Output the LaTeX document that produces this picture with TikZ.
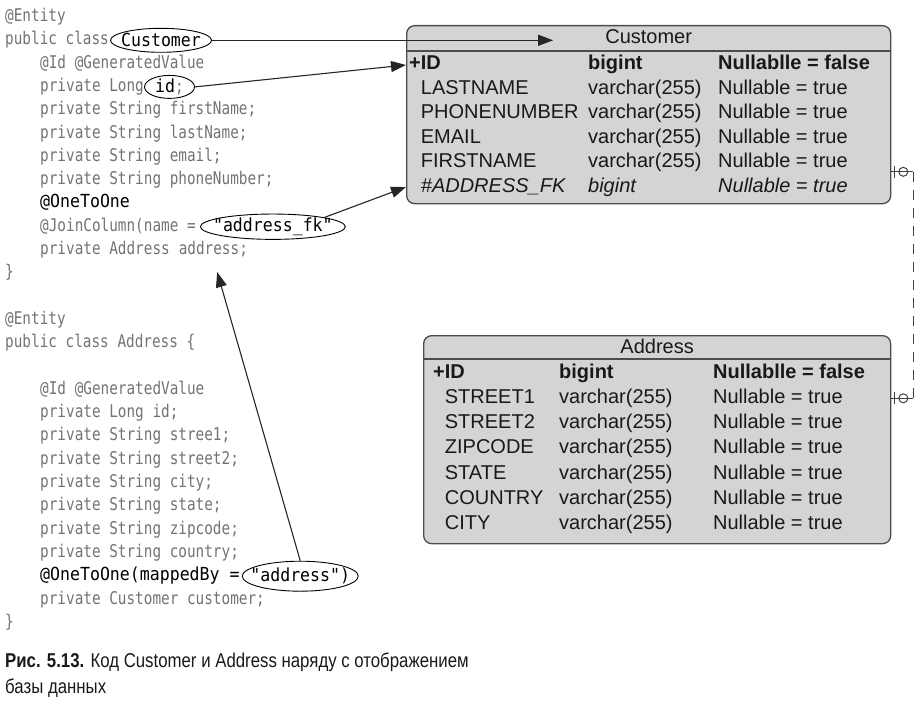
\documentclass[tikz,border=0pt]{standalone}
\usepackage{fontspec}
\usetikzlibrary{positioning}
\usetikzlibrary{shapes.geometric,arrows.meta}

\newfontfamily\codefam[FakeStretch=0.82]{DejaVu Sans Mono}
\newfontfamily\hlfam[FakeStretch=0.92]{DejaVu Sans Mono}
\newfontfamily\tabfam{Liberation Sans}
\newfontfamily\capfam[FakeStretch=0.84]{Liberation Sans}
\newcommand{\codetext}{\codefam\fontsize{17.5pt}{19pt}\selectfont}
\newcommand{\hltext}{\hlfam\fontsize{18pt}{19pt}\selectfont}
\newcommand{\tabtext}{\tabfam\fontsize{20pt}{24pt}\selectfont}
\newcommand{\captext}{\capfam\fontsize{20pt}{26pt}\selectfont}
\newcommand{\custrow}[3]{\makebox[179pt][l]{#1}\makebox[130pt][l]{#2}#3}
\newcommand{\addrrow}[3]{\makebox[126pt][l]{#1}\makebox[154pt][l]{#2}#3}

\begin{document}
\begin{tikzpicture}[x=1pt, y=-1pt, node distance=23.3pt,
	codeline/.style={inner sep=0, anchor=west, text height=13pt, text depth=4pt, text=black!55, font=\codetext},
	hlline/.style={codeline, text=black, font=\hltext},
	hl/.style={ellipse, draw=black, line width=0.9pt, inner sep=0, text=black, font=\hltext},
	conn/.style={draw=black!85, line width=1.1pt, -{Triangle[length=15pt,width=11pt]}},
	dbtable/.style={draw=black!70, fill=black!17, line width=1.3pt, rounded corners=8pt, anchor=north west},
	dbhead/.style={inner sep=0, text=black!90, font=\tabtext},
	dbrow/.style={inner sep=0, anchor=west, text height=14pt, text depth=4pt, text=black!90, font=\tabtext},
	relline/.style={draw=black!75, line width=1pt}]
		
		\useasboundingbox (0,0) rectangle (920,706);
		
		%Customer code
		\node[codeline] (c1) at (5,17) {@Entity};
		\node[codeline] (c2) [below=of c1.west, anchor=west] {public class};
		\node[hl, minimum width=101pt, minimum height=24pt, right=1pt of c2] (custword) {\makebox[0pt]{Customer}};
		\node[codeline] (c3) [below=of c2.west, anchor=west, xshift=35pt] {@Id @GeneratedValue};
		\node[codeline] (c4) [below=of c3.west, anchor=west] {private Long};
		\node[hl, minimum width=50pt, minimum height=23pt, right=0pt of c4] (idword) {\makebox[0pt]{id{\codetext\color{black!55};}}};
		\node[codeline] (c5) [below=of c4.west, anchor=west] {private String firstName;};
		\node[codeline] (c6) [below=of c5.west, anchor=west] {private String lastName;};
		\node[codeline] (c7) [below=of c6.west, anchor=west] {private String email;};
		\node[codeline] (c8) [below=of c7.west, anchor=west] {private String phoneNumber;};
		\node[hlline] (c9) [below=of c8.west, anchor=west] {@OneToOne};
		\node[codeline] (c10) [below=of c9.west, anchor=west] {@JoinColumn(name =};
		\node[hl, minimum width=145pt, minimum height=25pt, right=4pt of c10] (fkword) {\makebox[0pt]{"address\_fk"}};
		\node[codeline] (c11) [below=of c10.west, anchor=west] {private Address};
		\node[codeline, right=8.6pt of c11] (addrfield) {address;};
		\node[codeline] (c12) [below=of c11.west, anchor=west, xshift=-35pt] {\}};
		
		%Address code
		\node[codeline] (d1) [below=46.6pt of c12.west, anchor=west] {@Entity};
		\node[codeline] (d2) [below=of d1.west, anchor=west] {public class Address \{};
		\node[codeline] (d3) [below=46.6pt of d2.west, anchor=west, xshift=35pt] {@Id @GeneratedValue};
		\node[codeline] (d4) [below=of d3.west, anchor=west] {private Long id;};
		\node[codeline] (d5) [below=of d4.west, anchor=west] {private String stree1;};
		\node[codeline] (d6) [below=of d5.west, anchor=west] {private String street2;};
		\node[codeline] (d7) [below=of d6.west, anchor=west] {private String city;};
		\node[codeline] (d8) [below=of d7.west, anchor=west] {private String state;};
		\node[codeline] (d9) [below=of d8.west, anchor=west] {private String zipcode;};
		\node[codeline] (d10) [below=of d9.west, anchor=west] {private String country;};
		\node[hlline] (d11) [below=of d10.west, anchor=west] {@OneToOne(mappedBy =};
		\node[hl, minimum width=116pt, minimum height=30pt, right=2pt of d11] (mapword) {\makebox[0pt]{"address")}};
		\node[codeline] (d12) [below=of d11.west, anchor=west] {private Customer customer;};
		\node[codeline] (d13) [below=of d12.west, anchor=west, xshift=-35pt] {\}};
		
		%Customer table
		\node[dbtable, minimum width=484pt, minimum height=178pt] (custtab) at (406,25) {};
		\node[dbhead] (custhead) at ([yshift=-12pt]custtab.north) {Customer};
		\draw[draw=black!70, line width=1.3pt] ([yshift=-26pt]custtab.north west) -- ([yshift=-26pt]custtab.north east);
		\node[dbrow, font=\tabtext\bfseries] (cid) at ([xshift=3pt, yshift=-40pt]custtab.north west) {\custrow{+ID}{bigint}{Nullablle = false}};
		\node[dbrow] (clast) [below=24.4pt of cid.west, anchor=west] {\custrow{\phantom{+}LASTNAME}{varchar(255)}{Nullable = true}};
		\node[dbrow] (cphone) [below=24.4pt of clast.west, anchor=west] {\custrow{\phantom{+}PHONENUMBER}{varchar(255)}{Nullable = true}};
		\node[dbrow] (cmail) [below=24.4pt of cphone.west, anchor=west] {\custrow{\phantom{+}EMAIL}{varchar(255)}{Nullable = true}};
		\node[dbrow] (cfirst) [below=24.4pt of cmail.west, anchor=west] {\custrow{\phantom{+}FIRSTNAME}{varchar(255)}{Nullable = true}};
		\node[dbrow, font=\tabtext\itshape] (cfk) [below=24.4pt of cfirst.west, anchor=west] {\custrow{\phantom{+}\#ADDRESS\_FK}{bigint}{Nullable = true}};
		
		%Address table
		\node[dbtable, minimum width=467pt, minimum height=208pt] (addrtab) at (423,335) {};
		\node[dbhead] (addrhead) at ([yshift=-11pt]addrtab.north) {Address};
		\draw[draw=black!70, line width=1.3pt] ([yshift=-24pt]addrtab.north west) -- ([yshift=-24pt]addrtab.north east);
		\node[dbrow, font=\tabtext\bfseries] (aid) at ([xshift=10pt, yshift=-38pt]addrtab.north west) {\addrrow{+ID}{bigint}{Nullablle = false}};
		\node[dbrow] (astreeta) [below=25.3pt of aid.west, anchor=west] {\addrrow{\phantom{+}STREET1}{varchar(255)}{Nullable = true}};
		\node[dbrow] (astreetb) [below=25.3pt of astreeta.west, anchor=west] {\addrrow{\phantom{+}STREET2}{varchar(255)}{Nullable = true}};
		\node[dbrow] (azip) [below=25.3pt of astreetb.west, anchor=west] {\addrrow{\phantom{+}ZIPCODE}{varchar(255)}{Nullable = true}};
		\node[dbrow] (astate) [below=25.3pt of azip.west, anchor=west] {\addrrow{\phantom{+}STATE}{varchar(255)}{Nullable = true}};
		\node[dbrow] (acountry) [below=25.3pt of astate.west, anchor=west] {\addrrow{\phantom{+}COUNTRY}{varchar(255)}{Nullable = true}};
		\node[dbrow] (acity) [below=25.3pt of acountry.west, anchor=west] {\addrrow{\phantom{+}CITY}{varchar(255)}{Nullable = true}};
		
		%Caption
		\node[anchor=north west, align=left, inner sep=0, font=\captext, text=black!90] (caption) at (5,653) {{\bfseries Рис. 5.13.} Код Customer и Address наряду с отображением\\базы данных};
		
		%Lines
		\draw[conn, shorten >=52pt] (custword.east) -- (custword.east -| custhead.west);
		\draw[conn] (idword.east) -- (custtab.west |- cid.west);
		\draw[conn] (fkword.north east) -- (custtab.west |- cfk.west);
		\draw[conn, shorten >=14pt] (mapword.north) -- (addrfield.south);
		
		%Relation
		\coordinate (custrel) at (custtab.east |- cfirst.south);
		\coordinate (addrrel) at (addrtab.east |- astreeta.west);
		\draw[relline] (custrel) -- ([xshift=22pt]custrel) coordinate (reltop);
		\draw[relline] (addrrel) -- ([xshift=22pt]addrrel) coordinate (relbot);
		\draw[relline, dash pattern=on 10pt off 8pt] (reltop) -- (relbot);
		\draw[relline] ([xshift=3pt, yshift=-6pt]custrel) -- ([xshift=3pt, yshift=6pt]custrel);
		\draw[relline] ([xshift=12pt]custrel) circle (4.5pt);
		\draw[relline] ([xshift=3pt, yshift=-6pt]addrrel) -- ([xshift=3pt, yshift=6pt]addrrel);
		\draw[relline] ([xshift=12pt]addrrel) circle (4.5pt);
	\end{tikzpicture}
\end{document}
